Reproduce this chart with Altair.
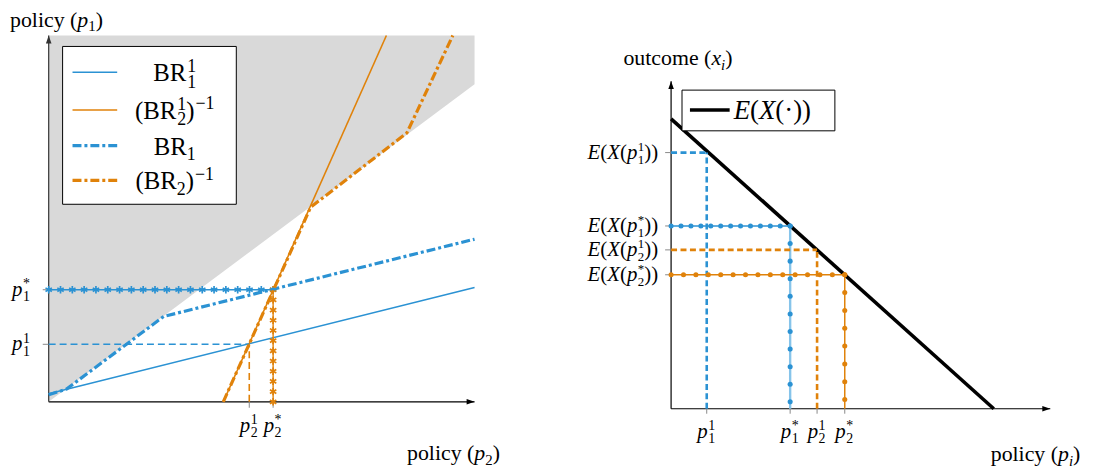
import altair as alt
import pandas as pd
import numpy as np

# ---------------- data (axis units 0..100) ----------------
# left panel: best responses
gray_x = [0, 100]
gray_lo = [0, 86.7]
gray_hi = [100, 100]
br11_x = [0, 100]
br11_y = [2.2, 31.2]
br21inv_x = [41.0, 79.3]
br21inv_y = [0, 100]
br1_x = [0, 4.2, 27.0, 100]
br1_y = [1.9, 3.5, 23.3, 44.4]
br2inv_x = [41.0, 61.5, 84.1, 94.9]
br2inv_y = [0, 53.1, 73.4, 100]
p1_1, p1_s = 15.7, 30.6      # y ticks
p2_1, p2_s = 47.1, 52.7      # x ticks

# right panel: expected outcome
ex_x = [0, 85.1]
ex_y = [88.5, 0]
r_keys = ["p11", "p1s", "p21", "p2s"]
r_pol = [9.4, 31.4, 38.5, 45.8]
r_out = [78.2, 55.8, 48.5, 40.9]

# ---------------- style ----------------
FONT = "Liberation Serif"
BLUE = "#2b92d3"
LBLUE = "#86c4ea"
ORANGE = "#e0820a"
GRAY = "#d9d9d9"

LXS = alt.Scale(domain=[0, 100], range=[41, 470], nice=False, zero=False)
LYS = alt.Scale(domain=[0, 100], range=[395, 26], nice=False, zero=False)
RXS = alt.Scale(domain=[0, 100], range=[668, 1050], nice=False, zero=False)
RYS = alt.Scale(domain=[0, 100], range=[402, 72], nice=False, zero=False)

ONE = pd.DataFrame({"a": [0]})
AST = "M0,-1L0,1M-0.87,-0.5L0.87,0.5M-0.87,0.5L0.87,-0.5"
ARR_R = "M-1,-0.7L1,0L-1,0.7Z"
ARR_U = "M-0.7,1L0,-1L0.7,1Z"

W_RM = {'p': .5, 'o': .5, 'l': .278, 'i': .278, 'c': .444, 'y': .5, ' ': .25, '(': .333, ')': .333,
        'u': .5, 't': .278, 'm': .778, 'e': .444, 'B': .667, 'R': .667, '1': .5, '2': .5,
        '\u2212': .564, '*': .5, '\u00b7': .25, 'E': .611, 'X': .722}
W_IT = {'p': .5, 'x': .444, 'i': .278, 'E': .611, 'X': .611, '(': .333, ')': .333}


def tw(s, it=False):
    t = W_IT if it else W_RM
    return sum(t.get(c, .5) for c in s)


def rich(pieces, size, data, xenc, yenc, align="left", dx0=0.0, dy0=0.0, sfac=0.7, gap=0.0):
    items = []
    cur = 0.0
    ss = round(size * sfac)
    for p in pieces:
        k = p[0]
        if k in ("rm", "it"):
            items.append((p[1], cur, 0, size, k == "it"))
            cur += tw(p[1], k == "it") * size
        elif k == "sup":
            cur += gap
            items.append((p[1], cur, -0.38 * size, ss, False))
            cur += tw(p[1]) * ss
        elif k in ("sub", "subit"):
            it = k == "subit"
            items.append((p[1], cur, 0.22 * size, ss, it))
            cur += tw(p[1], it) * ss
        elif k == "ss":
            cur += gap
            items.append((p[1], cur, 0.26 * size, ss, False))
            items.append((p[2], cur, -0.36 * size, ss, False))
            cur += max(tw(p[1]), tw(p[2])) * ss
    shift = {"left": 0, "right": -cur, "center": -cur / 2}[align]
    out = []
    for (t, dx, dy, fs, it) in items:
        out.append(
            alt.Chart(data).mark_text(
                text=t, align="left", baseline="alphabetic", font=FONT, fontSize=fs,
                fontStyle="italic" if it else "normal", color="black",
                dx=dx0 + shift + dx, dy=dy0 + dy,
            ).encode(x=xenc, y=yenc)
        )
    return out


def lx(f):
    return alt.X(f, scale=LXS, axis=None)


def ly(f):
    return alt.Y(f, scale=LYS, axis=None)


def rx(f):
    return alt.X(f, scale=RXS, axis=None)


def ry(f):
    return alt.Y(f, scale=RYS, axis=None)


def line_df(xs, ys):
    return pd.DataFrame({"x": xs, "y": ys, "i": range(len(xs))})


def markers(x0, y0, x1, y1, n):
    return pd.DataFrame({"x": np.linspace(x0, x1, n), "y": np.linspace(y0, y1, n)})


TS = 21   # tick-label size
TT = 22   # axis-title size

# ---------------- left panel ----------------
L = []
L.append(alt.Chart(pd.DataFrame({"x": gray_x, "lo": gray_lo, "hi": gray_hi}))
         .mark_area(color=GRAY, opacity=1)
         .encode(x=lx("x:Q"), y=ly("lo:Q"), y2="hi:Q"))
# axes
L.append(alt.Chart(pd.DataFrame({"x": [0], "x2": [100], "y": [0]}))
         .mark_rule(color="black", strokeWidth=1.2).encode(x=lx("x:Q"), x2="x2:Q", y=ly("y:Q")))
L.append(alt.Chart(pd.DataFrame({"x": [0], "y": [0], "y2": [100]}))
         .mark_rule(color="#333333", strokeWidth=1.2).encode(x=lx("x:Q"), y=ly("y:Q"), y2="y2:Q"))
L.append(alt.Chart(pd.DataFrame({"x": [100], "y": [0]}))
         .mark_point(shape=ARR_R, filled=True, size=64, color="black", opacity=1, xOffset=-4)
         .encode(x=lx("x:Q"), y=ly("y:Q")))
L.append(alt.Chart(pd.DataFrame({"x": [0], "y": [100]}))
         .mark_point(shape=ARR_U, filled=True, size=64, color="#333333", opacity=1, yOffset=4)
         .encode(x=lx("x:Q"), y=ly("y:Q")))
L.append(alt.Chart(pd.DataFrame({"y": [p1_1, p1_s]}))
         .mark_rule(color="#888888", strokeWidth=1).encode(x=alt.value(35), x2=alt.value(41), y=ly("y:Q")))
L.append(alt.Chart(pd.DataFrame({"x": [p2_1, p2_s]}))
         .mark_rule(color="#888888", strokeWidth=1).encode(x=lx("x:Q"), y=alt.value(395), y2=alt.value(401)))
# thin best responses
L.append(alt.Chart(line_df(br11_x, br11_y)).mark_line(color=BLUE, strokeWidth=1.6)
         .encode(x=lx("x:Q"), y=ly("y:Q"), order="i:Q"))
L.append(alt.Chart(line_df(br21inv_x, br21inv_y)).mark_line(color=ORANGE, strokeWidth=1.6)
         .encode(x=lx("x:Q"), y=ly("y:Q"), order="i:Q"))
# dashed guides to p^1
L.append(alt.Chart(pd.DataFrame({"x": [0], "x2": [p2_1], "y": [p1_1]}))
         .mark_rule(color=BLUE, strokeWidth=1.6, strokeDash=[7, 4])
         .encode(x=lx("x:Q"), x2="x2:Q", y=ly("y:Q")))
L.append(alt.Chart(pd.DataFrame({"x": [p2_1], "y": [0], "y2": [p1_1]}))
         .mark_rule(color=ORANGE, strokeWidth=1.6, strokeDash=[7, 4])
         .encode(x=lx("x:Q"), y=ly("y:Q"), y2="y2:Q"))
# starred guides to p^*
L.append(alt.Chart(pd.DataFrame({"x": [0], "x2": [p2_s], "y": [p1_s]}))
         .mark_rule(color=BLUE, strokeWidth=1.4).encode(x=lx("x:Q"), x2="x2:Q", y=ly("y:Q")))
L.append(alt.Chart(markers(0, p1_s, p2_s, p1_s, 20))
         .mark_point(shape=AST, filled=False, size=55, strokeWidth=1.7, color=BLUE, opacity=1)
         .encode(x=lx("x:Q"), y=ly("y:Q")))
L.append(alt.Chart(pd.DataFrame({"x": [p2_s], "y": [0], "y2": [p1_s]}))
         .mark_rule(color=ORANGE, strokeWidth=1.4).encode(x=lx("x:Q"), y=ly("y:Q"), y2="y2:Q"))
L.append(alt.Chart(markers(p2_s, 0, p2_s, p1_s, 12))
         .mark_point(shape=AST, filled=False, size=55, strokeWidth=1.7, color=ORANGE, opacity=1)
         .encode(x=lx("x:Q"), y=ly("y:Q")))
# thick dash-dot best responses
DD = [9, 3, 3, 3]
L.append(alt.Chart(line_df(br1_x, br1_y)).mark_line(color=BLUE, strokeWidth=3.2, strokeDash=DD)
         .encode(x=lx("x:Q"), y=ly("y:Q"), order="i:Q"))
L.append(alt.Chart(line_df(br2inv_x, br2inv_y)).mark_line(color=ORANGE, strokeWidth=3.2, strokeDash=DD)
         .encode(x=lx("x:Q"), y=ly("y:Q"), order="i:Q"))

# tick labels
for val, sub, sup in [(p1_s, "1", "*"), (p1_1, "1", "1")]:
    L += rich([("it", "p"), ("ss", sub, sup)], TS, pd.DataFrame({"x": [0], "y": [val]}),
              lx("x:Q"), ly("y:Q"), align="right", dx0=-19, dy0=6, sfac=0.66, gap=0.5)
for val, sub, sup in [(p2_1, "2", "1"), (p2_s, "2", "*")]:
    L += rich([("it", "p"), ("ss", sub, sup)], TS, pd.DataFrame({"x": [val], "y": [0]}),
              lx("x:Q"), ly("y:Q"), align="left", dx0=1.0 - 0.5 * TS, dy0=30, sfac=0.66, gap=0.5)
# axis titles
L += rich([("rm", "policy ("), ("it", "p"), ("sub", "1"), ("rm", ")")], TT, ONE,
          alt.value(2), alt.value(17))
L += rich([("rm", "policy ("), ("it", "p"), ("sub", "2"), ("rm", ")")], TT, ONE,
          alt.value(402), alt.value(454))
# legend
L.append(alt.Chart(ONE).mark_rect(fill="white", stroke="black", strokeWidth=1)
         .encode(x=alt.value(55), x2=alt.value(230), y=alt.value(37), y2=alt.value(196)))
leg_rows = [
    (63, BLUE, 1.6, None, [("rm", "BR"), ("ss", "1", "1")]),
    (101, ORANGE, 1.6, None, [("rm", "(BR"), ("ss", "2", "1"), ("rm", ")"), ("sup", "\u22121")]),
    (137, BLUE, 3.2, DD, [("rm", "BR"), ("sub", "1")]),
    (172, ORANGE, 3.2, DD, [("rm", "(BR"), ("sub", "2"), ("rm", ")"), ("sup", "\u22121")]),
]
for ypix, col, sw, dash, pieces in leg_rows:
    kw = dict(color=col, strokeWidth=sw)
    if dash:
        kw["strokeDash"] = dash
    L.append(alt.Chart(ONE).mark_rule(**kw)
             .encode(x=alt.value(65), x2=alt.value(110), y=alt.value(ypix)))
    L += rich(pieces, 25, ONE, alt.value(168), alt.value(ypix + 9), align="center", sfac=0.7, gap=1.0)

# ---------------- right panel ----------------
R = []
R.append(alt.Chart(pd.DataFrame({"x": [0], "x2": [100], "y": [0]}))
         .mark_rule(color="black", strokeWidth=1.2).encode(x=rx("x:Q"), x2="x2:Q", y=ry("y:Q")))
R.append(alt.Chart(pd.DataFrame({"x": [0], "y": [0], "y2": [100]}))
         .mark_rule(color="black", strokeWidth=1.2).encode(x=rx("x:Q"), y=ry("y:Q"), y2="y2:Q"))
R.append(alt.Chart(pd.DataFrame({"x": [100], "y": [0]}))
         .mark_point(shape=ARR_R, filled=True, size=64, color="black", opacity=1, xOffset=-4)
         .encode(x=rx("x:Q"), y=ry("y:Q")))
R.append(alt.Chart(pd.DataFrame({"x": [0], "y": [100]}))
         .mark_point(shape=ARR_U, filled=True, size=64, color="black", opacity=1, yOffset=4)
         .encode(x=rx("x:Q"), y=ry("y:Q")))
R.append(alt.Chart(pd.DataFrame({"y": r_out}))
         .mark_rule(color="#888888", strokeWidth=1).encode(x=alt.value(662), x2=alt.value(668), y=ry("y:Q")))
R.append(alt.Chart(pd.DataFrame({"x": r_pol}))
         .mark_rule(color="#888888", strokeWidth=1).encode(x=rx("x:Q"), y=alt.value(402), y2=alt.value(407)))
R.append(alt.Chart(line_df(ex_x, ex_y)).mark_line(color="black", strokeWidth=3.6)
         .encode(x=rx("x:Q"), y=ry("y:Q"), order="i:Q"))

guides = [
    # (index, hcolor, vcolor, width, dash, hdots, vdots, vdot_end)
    (0, BLUE, BLUE, 2.6, [6, 3.5], 0, 0, 0),
    (1, BLUE, LBLUE, 1.5, None, 13, 11, 2.1),
    (2, ORANGE, ORANGE, 2.6, [6, 3.5], 0, 0, 0),
    (3, ORANGE, ORANGE, 1.5, None, 15, 8, 2.8),
]
for idx, hc, vc, sw, dash, nh, nv, vend in guides:
    px, py = r_pol[idx], r_out[idx]
    kwh = dict(color=hc, strokeWidth=sw)
    kwv = dict(color=vc, strokeWidth=2.4 if vc == LBLUE else sw)
    if dash:
        kwh["strokeDash"] = dash
        kwv["strokeDash"] = dash
    R.append(alt.Chart(pd.DataFrame({"x": [0], "x2": [px], "y": [py]}))
             .mark_rule(**kwh).encode(x=rx("x:Q"), x2="x2:Q", y=ry("y:Q")))
    R.append(alt.Chart(pd.DataFrame({"x": [px], "y": [0], "y2": [py]}))
             .mark_rule(**kwv).encode(x=rx("x:Q"), y=ry("y:Q"), y2="y2:Q"))
    if nh:
        R.append(alt.Chart(markers(0, py, px, py, nh))
                 .mark_circle(size=26, color=hc, opacity=1).encode(x=rx("x:Q"), y=ry("y:Q")))
        R.append(alt.Chart(markers(px, py, px, vend, nv))
                 .mark_circle(size=26, color=hc, opacity=1).encode(x=rx("x:Q"), y=ry("y:Q")))

# tick labels
r_lab = {"p11": ("1", "1"), "p1s": ("1", "*"), "p21": ("2", "1"), "p2s": ("2", "*")}
for k, pv, ov in zip(r_keys, r_pol, r_out):
    sub, sup = r_lab[k]
    R += rich([("it", "p"), ("ss", sub, sup)], TS, pd.DataFrame({"x": [pv], "y": [0]}),
              rx("x:Q"), ry("y:Q"), align="left", dx0=1.0 - 0.5 * TS, dy0=29, sfac=0.66, gap=0.5)
    R += rich([("it", "E"), ("rm", "("), ("it", "X"), ("rm", "("), ("it", "p"), ("ss", sub, sup),
               ("rm", "))")], TS, pd.DataFrame({"x": [0], "y": [ov]}),
              rx("x:Q"), ry("y:Q"), align="right", dx0=-13, dy0=6, sfac=0.62, gap=0.5)
# titles
R += rich([("rm", "outcome ("), ("it", "x"), ("subit", "i"), ("rm", ")")], TT, ONE,
          alt.value(620), alt.value(56))
R += rich([("rm", "policy ("), ("it", "p"), ("subit", "i"), ("rm", ")")], TT, ONE,
          alt.value(990), alt.value(455))
# legend
R.append(alt.Chart(ONE).mark_rect(fill="white", stroke="black", strokeWidth=1)
         .encode(x=alt.value(679), x2=alt.value(833), y=alt.value(81), y2=alt.value(122)))
R.append(alt.Chart(ONE).mark_rule(color="black", strokeWidth=3.6)
         .encode(x=alt.value(687), x2=alt.value(727), y=alt.value(101)))
R += rich([("it", "E"), ("rm", "("), ("it", "X"), ("rm", "(\u00b7))")], 27, ONE,
          alt.value(731), alt.value(110))

left = alt.layer(*L)
right = alt.layer(*R)
chart = (
    alt.layer(left, right)
    .resolve_scale(x="independent", y="independent")
    .properties(width=1088, height=465, autosize=alt.AutoSizeParams(type="none"), padding=0,
                background="white")
    .configure_view(stroke=None)
)
chart.save("out.html", embed_options={"renderer": "svg", "actions": False})
